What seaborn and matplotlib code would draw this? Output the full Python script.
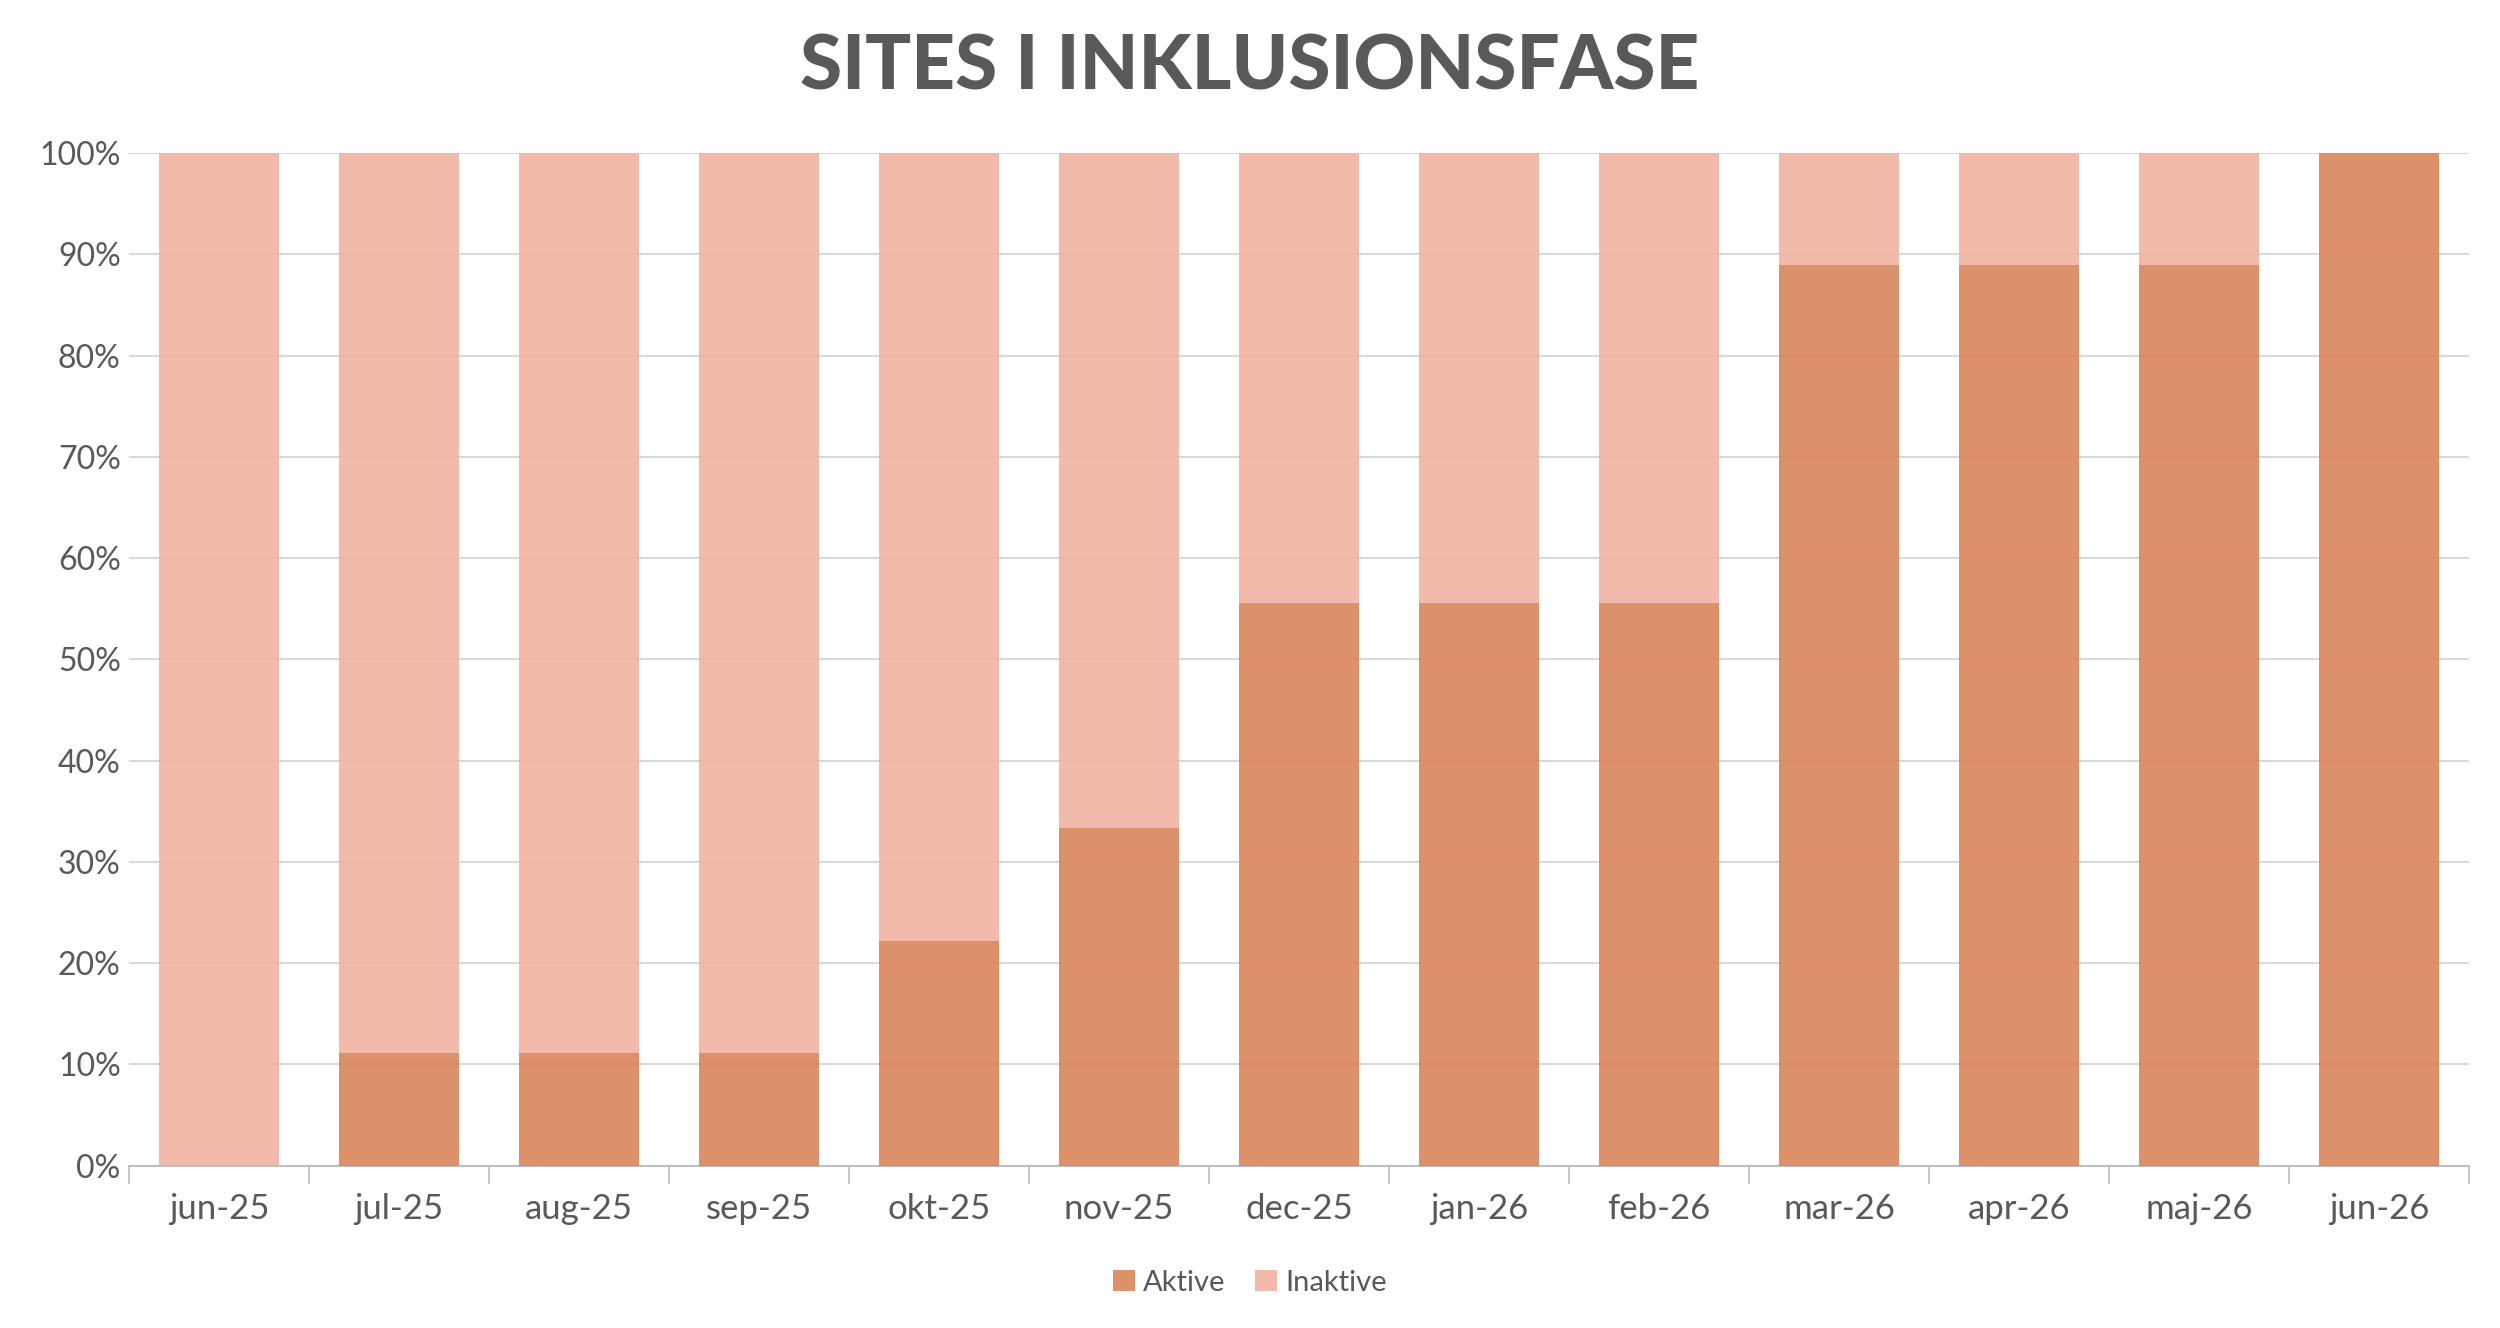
import numpy as np
import pandas as pd
import matplotlib.pyplot as plt
import seaborn as sns

months = ['jun-25', 'jul-25', 'aug-25', 'sep-25', 'okt-25', 'nov-25', 'dec-25',
          'jan-26', 'feb-26', 'mar-26', 'apr-26', 'maj-26', 'jun-26']
aktive = [0, 11.1, 11.1, 11.1, 22.2, 33.3, 55.6, 55.6, 55.6, 88.9, 88.9, 88.9, 100]
inaktive = [100, 88.9, 88.9, 88.9, 77.8, 66.7, 44.4, 44.4, 44.4, 11.1, 11.1, 11.1, 0]

df = pd.DataFrame({'month': months, 'Aktive': aktive, 'Inaktive': inaktive})

c_akt = '#D98256'
c_inakt = '#F0B19F'
txt = '#595959'

sns.set_style('white')
plt.rcParams['font.family'] = ['Lato', 'DejaVu Sans']

fig = plt.figure(figsize=(25, 13.28), dpi=100)
ax = fig.add_axes([0.0516, 0.1222, 0.936, 0.7626])

sns.barplot(data=df, x='month', y='Aktive', color=c_akt, width=0.667,
            alpha=0.88, saturation=1, ax=ax, label='Aktive', zorder=3,
            linewidth=0)
n_akt = len(ax.patches)
sns.barplot(data=df, x='month', y='Inaktive', color=c_inakt, width=0.667,
            alpha=0.88, saturation=1, ax=ax, label='Inaktive', zorder=2,
            linewidth=0)
# stack the inaktive bars on top of the aktive ones
for p, base in zip(ax.patches[n_akt:], df['Aktive']):
    p.set_y(base)
if ax.get_legend() is not None:
    ax.get_legend().remove()

ax.set_ylim(0, 100)
ax.set_xlim(-0.5, len(months) - 0.5)
ax.set_yticks(np.arange(0, 101, 10))
ax.set_yticklabels([f'{v}%' for v in range(0, 101, 10)])
ax.yaxis.grid(True, color='#D9D9D9', linewidth=1.5, zorder=0)
ax.set_axisbelow(True)
ax.set_xlabel('')
ax.set_ylabel('')

for s in ['top', 'right', 'left']:
    ax.spines[s].set_visible(False)
ax.spines['bottom'].set_color('#BFBFBF')
ax.spines['bottom'].set_linewidth(1.5)

# category tick marks between the bars
ax.set_xticks(np.arange(-0.5, len(months), 1), minor=True)
ax.tick_params(axis='x', which='minor', length=13, width=1.2, color='#BFBFBF',
               bottom=True)
ax.tick_params(axis='x', which='major', length=0, pad=20, labelsize=25,
               labelcolor=txt)
ax.tick_params(axis='y', length=0, pad=6, labelsize=23, labelcolor=txt)

handles, labels = ax.get_legend_handles_labels()
fig.legend(handles, labels, loc='center', bbox_to_anchor=(0.5, 0.034), ncol=2,
           frameon=False, fontsize=21, labelcolor=txt, handlelength=0.75,
           handleheight=0.75, handletextpad=0.3, columnspacing=1.0)

fig.text(0.5, 0.949, 'SITES I INKLUSIONSFASE', ha='center', va='center',
         fontsize=55, fontweight='black', color=txt)

fig.savefig('out.png', dpi=100, facecolor='white')
